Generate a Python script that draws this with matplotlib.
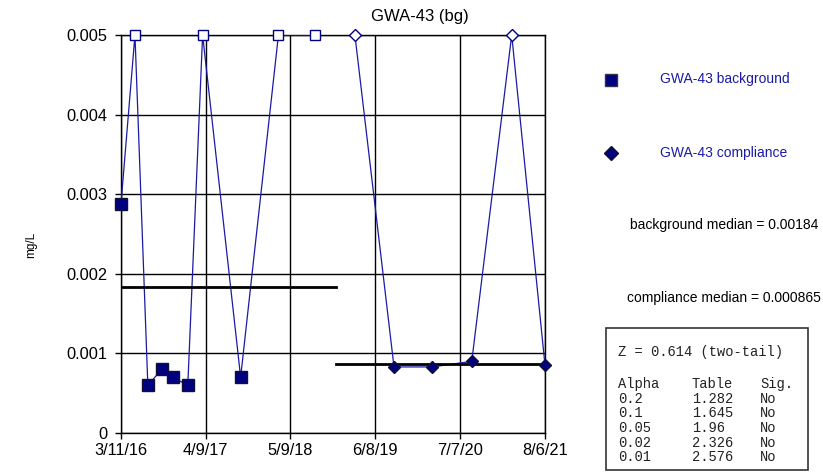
import matplotlib
matplotlib.use("Agg")
import matplotlib.pyplot as plt
import numpy as np
import pandas as pd

plt.rcParams['font.family'] = ['Liberation Sans', 'DejaVu Sans']

## Data
bg_dates = pd.to_datetime(['2016-03-11', '2016-05-15', '2016-07-14', '2016-09-17',
                           '2016-11-07', '2017-01-16', '2017-03-26', '2017-09-19',
                           '2018-03-14', '2018-09-02'])
bg_vals = [0.00288, 0.005, 0.0006, 0.0008, 0.0007, 0.0006, 0.005, 0.0007, 0.005, 0.005]
bg_nd = [False, True, False, False, False, False, True, False, True, True]  # open = non-detect

cp_dates = pd.to_datetime(['2019-03-05', '2019-09-03', '2020-02-27', '2020-08-30',
                           '2021-03-04', '2021-08-06'])
cp_vals = [0.005, 0.00083, 0.00083, 0.0009, 0.005, 0.00085]
cp_nd = [True, False, False, False, True, False]

bg_median = 0.00184
cp_median = 0.000865
median_split = pd.Timestamp('2018-12-07')

tick_dates = pd.to_datetime(['2016-03-11', '2017-04-09', '2018-05-09',
                             '2019-06-08', '2020-07-07', '2021-08-06'])
tick_labels = ['3/11/16', '4/9/17', '5/9/18', '6/8/19', '7/7/20', '8/6/21']

z_value = 0.614
alphas = ['0.2', '0.1', '0.05', '0.02', '0.01']
table_vals = ['1.282', '1.645', '1.96', '2.326', '2.576']
sig = ['No', 'No', 'No', 'No', 'No']

navy = '#000080'
line_c = '#1a1aa6'

W, H = 823, 473
fig = plt.figure(figsize=(W/100, H/100), dpi=100)
ax = fig.add_axes([121/W, 1-433/H, (545-121)/W, (433-35)/H])

## series lines
ax.plot(bg_dates, bg_vals, color=line_c, lw=0.9, zorder=3)
ax.plot(cp_dates, cp_vals, color=line_c, lw=0.9, zorder=3)

## markers: filled = detect, open = non-detect
for d, v, nd in zip(bg_dates, bg_vals, bg_nd):
    ax.plot(d, v, 's', ms=8 if not nd else 7.5, mfc='white' if nd else navy,
            mec=navy if nd else '#111133', mew=1.0, zorder=5, clip_on=False)
for d, v, nd in zip(cp_dates, cp_vals, cp_nd):
    ax.plot(d, v, 'D', ms=6.5, mfc='white' if nd else navy,
            mec=navy if nd else '#111133', mew=1.0, zorder=5, clip_on=False)

## medians
ax.plot([bg_dates[0], median_split], [bg_median, bg_median], color='black', lw=2, zorder=4)
ax.plot([median_split, cp_dates[-1]], [cp_median, cp_median], color='black', lw=2, zorder=4)

ax.set_xlim(tick_dates[0], tick_dates[-1])
ax.set_ylim(0, 0.005)
ax.set_xticks(tick_dates)
ax.set_xticklabels(tick_labels)
ax.set_yticks(np.arange(0, 0.0051, 0.001))
ax.set_yticklabels(['0', '0.001', '0.002', '0.003', '0.004', '0.005'])
ax.tick_params(axis='both', labelsize=11.8, direction='out', length=4, width=1)
ax.tick_params(axis='y', pad=6)
ax.grid(True, color='black', lw=1)
for s in ax.spines.values():
    s.set_linewidth(1)

fig.text(420/W, 1-16/H, 'GWA-43 (bg)', ha='center', va='center', fontsize=12)
fig.text(31/W, 1-245/H, 'mg/L', rotation=90, ha='center', va='center', fontsize=8.5)

## legend area
fig.lines.append(plt.Line2D([611/W], [1-80/H], marker='s', ms=8, mfc=navy,
                            mec='#333344', transform=fig.transFigure))
fig.lines.append(plt.Line2D([611/W], [1-153/H], marker='D', ms=7, mfc=navy,
                            mec='#111133', transform=fig.transFigure))
fig.text(660/W, 1-79/H, 'GWA-43 background', color='#1a1aa6', va='center', fontsize=10)
fig.text(660/W, 1-153/H, 'GWA-43 compliance', color='#1a1aa6', va='center', fontsize=10)
fig.text(630/W, 1-225/H, 'background median = %g' % bg_median, va='center', fontsize=10)
fig.text(627/W, 1-298/H, 'compliance median = %g' % cp_median, va='center', fontsize=10)

## Z-test box
fig.patches.append(plt.Rectangle((606/W, 1-470/H), (808-606)/W, (470-328)/H,
                                 fill=False, ec='#333333', lw=1.2, transform=fig.transFigure))
mono = dict(family='Liberation Mono', fontsize=9.9, va='center', color='#222222')
fig.text(618/W, 1-352/H, 'Z = %.3f (two-tail)' % z_value, **mono)
fig.text(618/W, 1-384/H, 'Alpha', **mono)
fig.text(692/W, 1-384/H, 'Table', **mono)
fig.text(760/W, 1-384/H, 'Sig.', **mono)
for i, (a, t, s) in enumerate(zip(alphas, table_vals, sig)):
    y = 1-(398.5+14.7*i)/H
    fig.text(618/W, y, a, **mono)
    fig.text(692/W, y, t, **mono)
    fig.text(760/W, y, s, **mono)

fig.savefig('out.png', dpi=100)
